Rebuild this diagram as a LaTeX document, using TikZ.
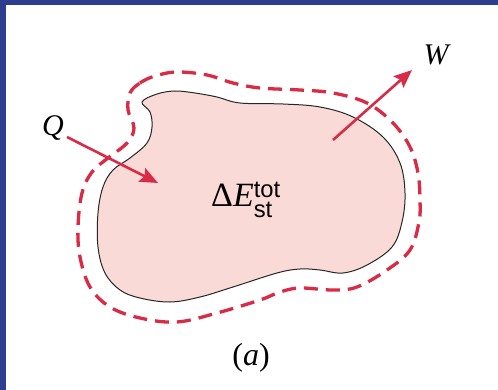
\documentclass[tikz,border=0pt]{standalone}
\usepackage{fontspec}
\usepackage{amsmath}
\setmainfont{Liberation Serif}
\setsansfont{Liberation Sans}
\usetikzlibrary{arrows.meta}
\definecolor{framebl}{HTML}{2E3E8E}
\definecolor{bodyred}{HTML}{D92B45}
\definecolor{bodypink}{HTML}{FADAD6}
\tikzset{
  flowarrow/.style={bodyred, line width=2.6pt, -{Stealth[length=18pt,width=15pt,inset=3pt]}},
  lbl/.style={inner sep=0pt, font=\fontsize{30}{31}\selectfont\itshape},
}
\begin{document}
\begin{tikzpicture}[x=1pt,y=-1pt]
\useasboundingbox (0,0) rectangle (498,390);
\fill[framebl] (0,0) rectangle (498,390);
\fill[white] (6,5) rectangle (498,390);
% system body
\draw[fill=bodypink, draw=black!85, line width=1pt]
  plot[smooth cycle, tension=0.6] coordinates {
  (142,102) (157,94) (175,91) (195,93) (217,97) (240,103) (283,104) (320,107)
  (353,117) (383,137) (400,163) (405,193) (402,222) (392,247) (367,265) (343,273)
  (320,270) (300,269) (277,273) (233,287) (200,297) (170,302) (140,298) (120,290)
  (105,273) (98,247) (98,213) (103,187) (113,170) (130,158) (147,143) (152,127) (150,112)};
% control surface
\draw[bodyred, line width=3.3pt, dash pattern=on 14pt off 8pt]
  plot[smooth cycle, tension=0.6] coordinates {
  (130,93) (140,83) (155,76) (177,72) (207,75) (233,83) (260,88) (300,90) (333,93)
  (367,103) (393,123) (410,147) (418,173) (420,200) (419,222) (410,250) (387,270)
  (357,287) (333,290) (300,288) (280,292) (260,300) (217,313) (177,322) (140,318)
  (110,307) (90,287) (80,257) (78,227) (82,193) (92,172) (108,158) (127,143) (134,128) (128,110)};
% labels
\node[lbl] (Q) at (53,128) {Q};
\node[lbl] (W) at (436,55) {W};
\node[inner sep=0pt, font=\fontsize{34}{36}\selectfont] (E) at (246,200)
  {Δ\textit{E}$^{\textsf{tot}}_{\textsf{st}}$};
\node[inner sep=0pt, font=\fontsize{32}{34}\selectfont] (cap) at (251,358) {(\textit{a})};
% arrows
\coordinate (qs) at (67,137);
\coordinate (qe) at (158,183);
\coordinate (ws) at (333,140);
\coordinate (we) at (412,70);
\draw[flowarrow] (qs) -- (qe);
\draw[flowarrow] (ws) -- (we);
\end{tikzpicture}
\end{document}
